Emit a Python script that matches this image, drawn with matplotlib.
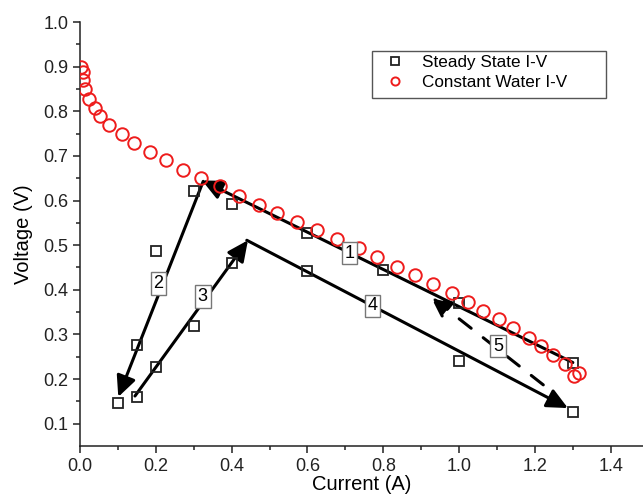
import matplotlib
matplotlib.use("Agg")
import matplotlib.pyplot as plt
from matplotlib.patches import Rectangle

plt.rcParams['font.family'] = ['Liberation Sans', 'DejaVu Sans']

# Steady State I-V (squares)
ss_current = [0.1, 0.15, 0.2, 0.3, 0.15, 0.2, 0.3, 0.4, 0.4, 0.6, 0.8, 1.0, 1.3, 0.6, 1.0, 1.3]
ss_voltage = [0.147, 0.277, 0.487, 0.622, 0.16, 0.228, 0.32, 0.46, 0.593, 0.527, 0.445, 0.37, 0.237, 0.443, 0.24, 0.127]

# Constant Water I-V (circles)
cw_current = [0.003, 0.009, 0.009, 0.013, 0.024, 0.039, 0.054, 0.077, 0.11, 0.142, 0.185, 0.227,
              0.271, 0.318, 0.369, 0.42, 0.471, 0.519, 0.572, 0.625, 0.677, 0.735, 0.784, 0.837,
              0.884, 0.932, 0.981, 1.023, 1.064, 1.106, 1.143, 1.183, 1.215, 1.247, 1.28, 1.315, 1.303]
cw_voltage = [0.900, 0.889, 0.870, 0.849, 0.828, 0.808, 0.789, 0.769, 0.749, 0.730, 0.709, 0.690,
              0.669, 0.651, 0.632, 0.611, 0.591, 0.573, 0.553, 0.533, 0.513, 0.494, 0.473, 0.452,
              0.434, 0.412, 0.392, 0.372, 0.353, 0.334, 0.314, 0.293, 0.274, 0.255, 0.234, 0.214, 0.207]

# path arrows: start, end, dashed
arrow_start = [(1.3, 0.237), (0.325, 0.643), (0.145, 0.162), (0.44, 0.511), (1.222, 0.187)]
arrow_end   = [(0.322, 0.645), (0.101, 0.16), (0.443, 0.511), (1.287, 0.135), (0.925, 0.385)]
arrow_dash  = [False, False, False, False, True]

step_labels = ["1", "2", "3", "4", "5"]
step_pos = [(0.711, 0.482), (0.207, 0.414), (0.324, 0.385), (0.772, 0.364), (1.103, 0.274)]

fig = plt.figure(figsize=(6.43, 4.96), dpi=100)
ax = fig.add_axes([0.1244, 0.1008, 0.8756, 0.8548])

for (x0, y0), (x1, y1), dashed in zip(arrow_start, arrow_end, arrow_dash):
    ax.annotate("", xy=(x1, y1), xytext=(x0, y0),
                arrowprops=dict(arrowstyle="-|>,head_length=0.7,head_width=0.33",
                                color="black", lw=2.2,
                                mutation_scale=18, shrinkA=0, shrinkB=0,
                                linestyle=(0, (5, 5)) if dashed else "-"),
                zorder=2)

ax.plot(ss_current, ss_voltage, linestyle="none", marker="s", markersize=7.8,
        markerfacecolor="none", markeredgecolor="#222222", markeredgewidth=1.3,
        label="Steady State I-V", zorder=3)
ax.plot(cw_current, cw_voltage, linestyle="none", marker="o", markersize=9,
        markerfacecolor="none", markeredgecolor="#ee1c1c", markeredgewidth=1.4,
        label="Constant Water I-V", zorder=3)

for lab, (x, y) in zip(step_labels, step_pos):
    ax.text(x, y, lab, fontsize=13, ha="center", va="center", zorder=5,
            bbox=dict(boxstyle="square,pad=0.15", facecolor="white",
                      edgecolor="#777777", linewidth=1))

ax.set_xlim(0, 1.485)
ax.set_ylim(0.05, 1.0)
ax.set_xticks([0.0, 0.2, 0.4, 0.6, 0.8, 1.0, 1.2, 1.4])
ax.set_yticks([0.1, 0.2, 0.3, 0.4, 0.5, 0.6, 0.7, 0.8, 0.9, 1.0])
ax.set_xticks([0.1, 0.3, 0.5, 0.7, 0.9, 1.1, 1.3], minor=True)
ax.set_yticks([0.15, 0.25, 0.35, 0.45, 0.55, 0.65, 0.75, 0.85, 0.95], minor=True)
ax.xaxis.set_major_formatter(matplotlib.ticker.FormatStrFormatter("%.1f"))
ax.yaxis.set_major_formatter(matplotlib.ticker.FormatStrFormatter("%.1f"))
ax.tick_params(which="major", direction="out", length=5, width=1.1, labelsize=13, colors="#222222")
ax.tick_params(which="minor", direction="out", length=3, width=1.1, colors="#222222")
ax.spines["top"].set_visible(False)
ax.spines["right"].set_visible(False)
for s in ["left", "bottom"]:
    ax.spines[s].set_linewidth(1.1)
    ax.spines[s].set_color("#222222")

ax.set_xlabel("Current (A)", fontsize=14.5, labelpad=0)
ax.set_ylabel("Voltage (V)", fontsize=14.5, labelpad=7)

# legend with a fixed frame like the original
ax.add_patch(Rectangle((0.519, 0.821), 0.415, 0.111, transform=ax.transAxes,
                       facecolor="white", edgecolor="#555555", linewidth=1, zorder=6))
leg = ax.legend(loc="upper left", bbox_to_anchor=(0.545, 0.922), borderaxespad=0,
                borderpad=0, fontsize=12.3, frameon=False, markerscale=0.65,
                handlelength=1.0, handletextpad=1.05, labelspacing=0.3)
leg.set_zorder(7)

fig.savefig("out.png", dpi=100)
